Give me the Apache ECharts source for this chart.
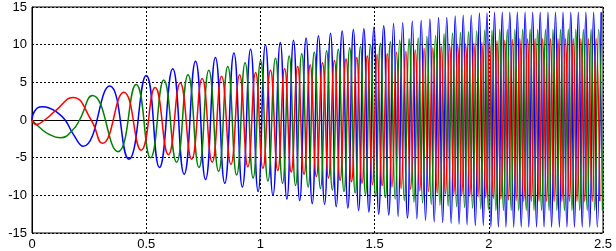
<!DOCTYPE html>
<html>
<head>
<meta charset="utf-8">
<script src="https://cdn.jsdelivr.net/npm/echarts@6/dist/echarts.min.js"></script>
<style>
html, body { margin: 0; padding: 0; background: #fff; }
#chart { width: 616px; height: 251px; }
</style>
</head>
<body>
<div id="chart"></div>
<script>
// axis ticks
var xTicks = [0, 0.5, 1, 1.5, 2, 2.5]
var yTicks = [-15, -10, -5, 0, 5, 10, 15]

// blue phase: turning points (time s, value)
var blueT = [0, 0.012, 0.045, 0.075, 0.106, 0.145, 0.179, 0.224, 0.340, 0.424,
  0.500, 0.558, 0.616, 0.666, 0.716, 0.760, 0.803, 0.844, 0.884, 0.921,
  0.957, 0.990, 1.022, 1.055, 1.087, 1.116, 1.145, 1.172, 1.200, 1.227,
  1.254, 1.281, 1.307, 1.332, 1.358, 1.383, 1.407, 1.430, 1.453, 1.475,
  1.497, 1.518, 1.540, 1.562, 1.583, 1.603, 1.623, 1.644, 1.665, 1.685,
  1.704, 1.723, 1.742, 1.761, 1.780, 1.798, 1.816, 1.835, 1.853, 1.870,
  1.888, 1.905, 1.923, 1.941, 1.959, 1.976, 1.992, 2.009, 2.025, 2.042,
  2.059, 2.075, 2.092, 2.109, 2.125, 2.142, 2.159, 2.175, 2.192, 2.209,
  2.225, 2.242, 2.259, 2.275, 2.292, 2.309, 2.325, 2.342, 2.359, 2.375,
  2.392, 2.409, 2.425, 2.442, 2.459, 2.475, 2.492]
var blueV = [0, 1.2, 1.75, 1.6, 1.1, 0, -1.8, -3.5, 4.5, -5.2,
  5.9, -6.3, 6.8, -7.2, 7.8, -7.9, 8.3, -8.4, 8.9, -8.9,
  9.4, -9.5, 10.0, -10.0, 10.3, -10.5, 10.6, -10.7, 10.9, -11.1,
  11.2, -11.2, 11.5, -11.5, 11.8, -11.7, 12.0, -12.0, 12.1, -12.2,
  12.3, -12.5, 12.5, -12.6, 12.8, -12.8, 12.9, -13.0, 13.1, -13.1,
  13.2, -13.3, 13.4, -13.5, 13.6, -13.6, 13.6, -13.7, 13.8, -13.8,
  13.9, -13.9, 13.9, -14.0, 14.2, -14.0, 14.2, -14.2, 14.3, -14.2,
  14.3, -14.2, 14.3, -14.2, 14.3, -14.2, 14.3, -14.2, 14.3, -14.2,
  14.3, -14.2, 14.3, -14.2, 14.3, -14.2, 14.3, -14.2, 14.3, -14.2,
  14.3, -14.2, 14.3, -14.2, 14.3, -14.2, 14.3]

// green phase
var greenT = [0, 0.030, 0.075, 0.125, 0.179, 0.208, 0.265, 0.376, 0.456,
  0.519, 0.577, 0.633, 0.683, 0.731, 0.774, 0.817, 0.857, 0.896, 0.933,
  0.968, 1.001, 1.033, 1.066, 1.097, 1.126, 1.154, 1.181, 1.209, 1.236,
  1.263, 1.290, 1.315, 1.341, 1.366, 1.391, 1.415, 1.438, 1.460, 1.482,
  1.504, 1.525, 1.547, 1.569, 1.590, 1.610, 1.630, 1.651, 1.672, 1.691,
  1.710, 1.729, 1.748, 1.767, 1.786, 1.804, 1.822, 1.841, 1.859, 1.876,
  1.894, 1.911, 1.929, 1.947, 1.965, 1.982, 1.998, 2.014, 2.031, 2.048,
  2.064, 2.081, 2.098, 2.114, 2.131, 2.148, 2.164, 2.181, 2.198, 2.214,
  2.231, 2.248, 2.264, 2.281, 2.298, 2.314, 2.331, 2.348, 2.364, 2.381,
  2.398, 2.414, 2.431, 2.448, 2.464, 2.481, 2.498]
var greenV = [0, -0.9, -1.9, -2.35, -1.3, 0, 3.25, -4.2, 4.7,
  -5.0, 5.3, -5.6, 6.0, -6.3, 6.6, -6.8, 7.1, -7.3, 7.6,
  -7.7, 7.9, -8.1, 8.2, -8.4, 8.5, -8.7, 8.8, -8.9, 9.0,
  -9.1, 9.2, -9.3, 9.4, -9.5, 9.6, -9.7, 9.8, -9.9, 10.0,
  -10.1, 10.2, -10.3, 10.4, -10.5, 10.6, -10.7, 10.8, -10.9, 10.9,
  -11.0, 11.1, -11.2, 11.2, -11.3, 11.4, -11.4, 11.5, -11.5, 11.6,
  -11.6, 11.7, -11.7, 11.8, -11.8, 11.9, -11.9, 11.9, -12.0, 12.0,
  -12.0, 12.0, -12.0, 12.0, -12.0, 12.0, -12.0, 12.0, -12.0, 12.0,
  -12.0, 12.0, -12.0, 12.0, -12.0, 12.0, -12.0, 12.0, -12.0, 12.0,
  -12.0, 12.0, -12.0, 12.0, -12.0, 12.0, -12.0]

// red phase
var redT = [0, 0.018, 0.055, 0.106, 0.179, 0.259, 0.308, 0.402, 0.478,
  0.539, 0.597, 0.649, 0.699, 0.745, 0.789, 0.830, 0.871, 0.909, 0.945,
  0.979, 1.011, 1.044, 1.076, 1.106, 1.135, 1.163, 1.191, 1.218, 1.245,
  1.272, 1.298, 1.324, 1.349, 1.375, 1.399, 1.422, 1.445, 1.468, 1.490,
  1.511, 1.533, 1.555, 1.576, 1.596, 1.616, 1.637, 1.658, 1.678, 1.698,
  1.717, 1.736, 1.755, 1.774, 1.792, 1.810, 1.829, 1.847, 1.864, 1.882,
  1.899, 1.917, 1.935, 1.953, 1.970, 1.987, 2.003, 2.020, 2.036, 2.053,
  2.070, 2.086, 2.103, 2.120, 2.136, 2.153, 2.170, 2.186, 2.203, 2.220,
  2.236, 2.253, 2.270, 2.286, 2.303, 2.320, 2.336, 2.353, 2.370, 2.386,
  2.403, 2.420, 2.436, 2.453, 2.470, 2.486]
var redV = [0, -0.6, 0, 1.3, 3.0, 0, -3.1, 3.7, -4.0,
  4.3, -4.6, 4.9, -5.2, 5.5, -5.6, 5.8, -5.9, 6.0, -6.2,
  6.3, -6.4, 6.6, -6.7, 6.8, -6.9, 7.1, -7.2, 7.3, -7.5,
  7.6, -7.7, 7.9, -8.0, 8.1, -8.2, 8.3, -8.4, 8.5, -8.6,
  8.7, -8.7, 8.8, -8.9, 9.0, -9.1, 9.1, -9.2, 9.3, -9.4,
  9.5, -9.5, 9.6, -9.7, 9.8, -9.8, 9.9, -9.9, 10.0, -10.0,
  10.1, -10.1, 10.2, -10.2, 10.3, -10.3, 10.4, -10.4, 10.5, -10.5,
  10.6, -10.6, 10.7, -10.7, 10.8, -10.8, 10.8, -10.8, 10.8, -10.8,
  10.8, -10.8, 10.8, -10.8, 10.8, -10.8, 10.8, -10.8, 10.8, -10.8,
  10.8, -10.8, 10.8, -10.8, 10.8, -10.8]

function pairs (ts, vs) {
  return ts.map(function (t, i) { return [t, vs[i]] })
}

function wave (color, ts, vs) {
  return {
    type: 'line',
    data: pairs(ts, vs),
    showSymbol: false,
    smooth: 0.5,
    lineStyle: { color: color, width: 1.5 },
    itemStyle: { color: color }
  }
}

var chart = echarts.init(document.getElementById('chart'), null, { renderer: 'canvas' })
chart.setOption({
  animation: false,
  backgroundColor: '#fff',
  grid: {
    left: 32, right: 13, top: 7, bottom: 15,
    show: true, borderColor: '#000', borderWidth: 1
  },
  xAxis: {
    type: 'value',
    min: xTicks[0],
    max: xTicks[xTicks.length - 1],
    interval: 0.5,
    axisLine: { lineStyle: { color: '#000', width: 1 } },
    axisTick: { show: false },
    axisLabel: { color: '#000', fontSize: 13, fontFamily: 'Liberation Sans', margin: 5 },
    splitLine: { lineStyle: { color: '#000', type: [2, 2], width: 1 } }
  },
  yAxis: {
    type: 'value',
    min: yTicks[0],
    max: yTicks[yTicks.length - 1],
    interval: 5,
    axisLine: { show: true, lineStyle: { color: '#000', width: 1 } },
    axisTick: { show: false },
    axisLabel: { color: '#000', fontSize: 13, fontFamily: 'Liberation Sans', margin: 5 },
    splitLine: { lineStyle: { color: '#000', type: [2, 2], width: 1 } }
  },
  series: [
    wave('#0000ff', blueT, blueV),
    wave('#008000', greenT, greenV),
    wave('#ff0000', redT, redV)
  ]
})
</script>
</body>
</html>
